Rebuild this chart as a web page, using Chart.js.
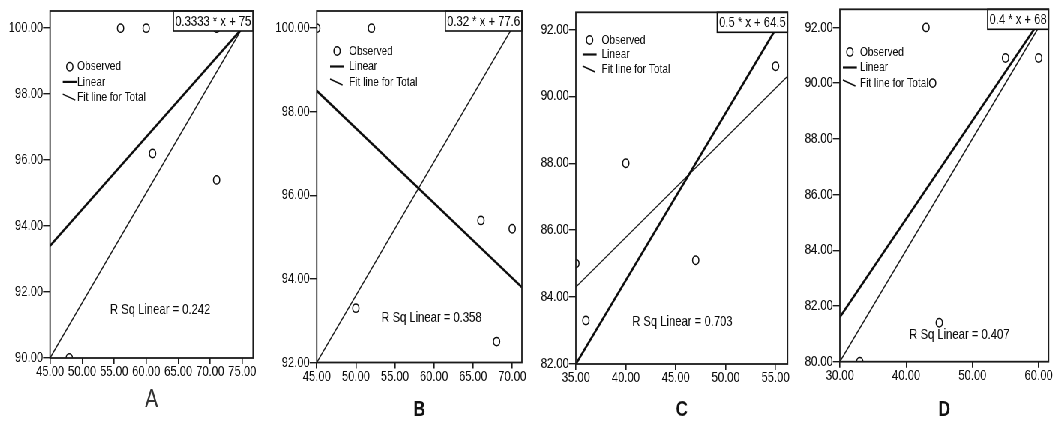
<!DOCTYPE html>
<html>
<head>
<meta charset="utf-8">
<script src="https://cdn.jsdelivr.net/npm/chart.js@4.4.0/dist/chart.umd.min.js"></script>
<style>
  html, body { margin: 0; background: #fff; overflow: hidden; }
  /* A figura original é "espremida" na horizontal: desenha larga e comprime com CSS */
  #painel { position: relative; width: 1404px; height: 423px; background: #fff;
            transform: scaleX(0.75); transform-origin: 0 0; }
  #painel canvas { position: absolute; left: 0; top: 0; }
</style>
</head>
<body>
<div id="painel">
  <canvas id="graficoA" width="1404" height="423"></canvas>
  <canvas id="graficoB" width="1404" height="423"></canvas>
  <canvas id="graficoC" width="1404" height="423"></canvas>
  <canvas id="graficoD" width="1404" height="423"></canvas>
</div>
<script>
// ---- Dados ----
const rotulos = ['A', 'B', 'C', 'D'];

// Pontos observados
const xObsA = [48, 56, 60, 71, 61, 71];
const yObsA = [90, 100, 100, 100, 96.2, 95.4];
const xObsB = [45, 52, 50, 66, 70, 68];
const yObsB = [100, 100, 93.3, 95.4, 95.2, 92.5];
const xObsC = [35, 36, 40, 47, 55];
const yObsC = [85, 83.3, 88, 85.1, 90.9];
const xObsD = [33, 43, 44, 45, 55, 60];
const yObsD = [80, 92, 90, 81.4, 90.9, 90.9];

// Retas (linha grossa = Linear, linha fina = Fit line for Total), extremos lidos
const xLinearA = [45, 76.7];  const yLinearA = [93.4, 100.37];
const xAjusteA = [45, 76.7];  const yAjusteA = [90, 100.57];
const xLinearB = [45, 71.24]; const yLinearB = [98.5, 93.8];
const xAjusteB = [45, 71.24]; const yAjusteB = [92, 100.4];
const xLinearC = [35, 56.2];  const yLinearC = [82, 92.6];
const xAjusteC = [35, 56.2];  const yAjusteC = [84.3, 90.6];
const xLinearD = [30, 61.5];  const yLinearD = [81.6, 92.7];
const xAjusteD = [30, 61.5];  const yAjusteD = [80, 92.6];

// Equações e R²
const equacoes = ['0.3333 * x + 75', '0.32 * x + 77.6', '0.5 * x + 64.5', '0.4 * x + 68'];
const rQuadrados = [0.242, 0.358, 0.703, 0.407];

// Marcas dos eixos
const xTicksA = [45, 50, 55, 60, 65, 70, 75];
const yTicksA = [90, 92, 94, 96, 98, 100];
const xTicksB = [45, 50, 55, 60, 65, 70];
const yTicksB = [92, 94, 96, 98, 100];
const xTicksC = [35, 40, 45, 50, 55];
const yTicksC = [82, 84, 86, 88, 90, 92];
const xTicksD = [30, 40, 50, 60];
const yTicksD = [80, 82, 84, 86, 88, 90, 92];

// Limites dos eixos
const xLimitesA = [45, 76.7];  const yLimitesA = [90, 100.52];
const xLimitesB = [45, 71.24]; const yLimitesB = [92, 100.41];
const xLimitesC = [35, 56.2];  const yLimitesC = [82, 92.51];
const xLimitesD = [30, 61.5];  const yLimitesD = [80, 92.65];

// ---- Estilo ----
const escalaX = 0.75;            // compressão horizontal aplicada no CSS
const larguraCanvas = 1404;
const fonte = "'Liberation Sans', Arial, sans-serif";
const corTinta = '#0d0d0d';
const larguraEixoY = 50 / escalaX;
const cx = (v) => v / escalaX;   // converte x da figura para x do canvas

// Junta arrays x/y em pontos
const pontos = (xs, ys) => xs.map((x, i) => ({ x: x, y: ys[i] }));

// Plugin que desenha moldura, caixa da equação, R² e a legenda dentro da área
const pluginSpss = {
  id: 'spss',
  afterDatasetsDraw(chart, args, opts) {
    const { ctx, chartArea: a } = chart;
    ctx.save();

    // Legenda a partir dos datasets
    ctx.font = '13.5px ' + fonte;
    ctx.textAlign = 'left';
    ctx.textBaseline = 'middle';
    chart.data.datasets.forEach((ds, i) => {
      const y = a.top + opts.legenda.y + i * opts.legenda.dy;
      const x0 = a.left + cx(opts.legenda.x);
      const x1 = x0 + cx(14);
      ctx.strokeStyle = corTinta;
      ctx.fillStyle = corTinta;
      if (ds.tipoLegenda === 'circulo') {
        ctx.lineWidth = 1.5;
        ctx.beginPath();
        ctx.arc((x0 + x1) / 2, y, 4.2, 0, Math.PI * 2);
        ctx.stroke();
      } else if (ds.tipoLegenda === 'reta') {
        ctx.lineWidth = 2.2;
        ctx.beginPath();
        ctx.moveTo(x0, y);
        ctx.lineTo(x1, y);
        ctx.stroke();
      } else {
        ctx.lineWidth = 1.4;
        ctx.beginPath();
        ctx.moveTo(x0, y - 3);
        ctx.lineTo(x1 - 2, y + 3);
        ctx.stroke();
      }
      ctx.fillText(ds.label, a.left + cx(opts.legenda.tx), y);
    });

    // R² Linear
    ctx.font = '15px ' + fonte;
    ctx.textAlign = 'center';
    ctx.fillStyle = corTinta;
    ctx.fillText('R Sq Linear = ' + opts.r2.toFixed(3), a.left + cx(opts.rsq.x), a.top + opts.rsq.y);

    // Caixa da equação no canto superior direito
    ctx.font = '15px ' + fonte;
    const w = ctx.measureText(opts.equacao).width + 5;
    ctx.fillStyle = '#fff';
    ctx.fillRect(a.right - w, a.top, w, 20);
    ctx.strokeStyle = corTinta;
    ctx.lineWidth = 1.6;
    ctx.strokeRect(a.right - w, a.top, w, 20);
    ctx.fillStyle = corTinta;
    ctx.textAlign = 'left';
    ctx.fillText(opts.equacao, a.right - w + 2.5, a.top + 11);

    // Moldura da área de plotagem
    ctx.strokeStyle = '#1a1a1a';
    ctx.lineWidth = 1.8;
    ctx.strokeRect(a.left, a.top, a.right - a.left, a.bottom - a.top);
    ctx.restore();
  }
};

// Cria um painel; area = posição da área de plotagem em pixels da figura
function criarPainel(id, indice, obs, linear, ajuste, xTicks, yTicks, xLim, yLim, layout) {
  const ctx = document.getElementById(id).getContext('2d');
  return new Chart(ctx, {
    type: 'scatter',
    data: {
      datasets: [
        {
          label: 'Observed', tipoLegenda: 'circulo', data: obs,
          pointRadius: 4.2, pointBorderWidth: 1.5, pointBorderColor: corTinta,
          pointBackgroundColor: 'rgba(0,0,0,0)', clip: 0,
        },
        {
          label: 'Linear', tipoLegenda: 'reta', data: linear, showLine: true,
          borderColor: corTinta, borderWidth: 2.6, pointRadius: 0, clip: 0,
        },
        {
          label: 'Fit line for Total', tipoLegenda: 'diagonal', data: ajuste, showLine: true,
          borderColor: '#1a1a1a', borderWidth: 1.4, pointRadius: 0, clip: 0,
        },
      ],
    },
    options: {
      responsive: false,
      animation: false,
      devicePixelRatio: 1,
      layout: {
        padding: {
          left: cx(layout.area.left) - larguraEixoY,
          top: layout.area.top,
          right: larguraCanvas - cx(layout.area.right),
          bottom: 0,
        },
      },
      plugins: {
        legend: { display: false },
        tooltip: { enabled: false },
        spss: {
          equacao: equacoes[indice], r2: rQuadrados[indice],
          rsq: layout.rsq, legenda: layout.legenda,
        },
      },
      scales: {
        x: {
          type: 'linear', min: xLim[0], max: xLim[1],
          grid: { display: true, drawOnChartArea: false, drawTicks: true, tickLength: 6, color: '#1a1a1a', lineWidth: 1.6 },
          border: { display: false },
          afterBuildTicks: (s) => { s.ticks = xTicks.map((v) => ({ value: v })); },
          afterFit: (s) => { s.height = 423 - layout.area.bottom; s.paddingLeft = 0; s.paddingRight = 0; },
          ticks: {
            autoSkip: false, maxRotation: 0, padding: -1, color: corTinta,
            font: { family: fonte, size: 15 },
            callback: (v) => Number(v).toFixed(2),
          },
          title: {
            display: true, text: rotulos[indice], color: layout.titulo.cor,
            font: { family: fonte, size: layout.titulo.tamanho, weight: layout.titulo.peso },
            padding: { top: 0, bottom: layout.titulo.baixo },
          },
        },
        y: {
          type: 'linear', min: yLim[0], max: yLim[1],
          grid: { display: true, drawOnChartArea: false, drawTicks: true, tickLength: cx(7), color: '#1a1a1a', lineWidth: 1.4 },
          border: { display: false },
          afterBuildTicks: (s) => { s.ticks = yTicks.map((v) => ({ value: v })); },
          afterFit: (s) => { s.width = larguraEixoY; s.paddingTop = 0; s.paddingBottom = 0; },
          ticks: {
            autoSkip: false, padding: 0, color: corTinta,
            font: { family: fonte, size: 15 },
            callback: (v) => Number(v).toFixed(2),
          },
        },
      },
    },
    plugins: [pluginSpss],
  });
}

criarPainel('graficoA', 0, pontos(xObsA, yObsA), pontos(xLinearA, yLinearA), pontos(xAjusteA, yAjusteA),
  xTicksA, yTicksA, xLimitesA, yLimitesA, {
    area: { left: 50, top: 11, right: 253, bottom: 358 },
    legenda: { x: 12.7, tx: 27, y: 55.7, dy: 15.2 },
    rsq: { x: 110, y: 299 },
    titulo: { tamanho: 26, peso: 'normal', cor: '#333', baixo: 8 },
  });

criarPainel('graficoB', 1, pontos(xObsB, yObsB), pontos(xLinearB, yLinearB), pontos(xAjusteB, yAjusteB),
  xTicksB, yTicksB, xLimitesB, yLimitesB, {
    area: { left: 316.7, top: 11, right: 522, bottom: 362.5 },
    legenda: { x: 13.3, tx: 32.3, y: 40, dy: 15.5 },
    rsq: { x: 114.8, y: 307 },
    titulo: { tamanho: 22, peso: 'bold', cor: '#111', baixo: 0 },
  });

criarPainel('graficoC', 2, pontos(xObsC, yObsC), pontos(xLinearC, yLinearC), pontos(xAjusteC, yAjusteC),
  xTicksC, yTicksC, xLimitesC, yLimitesC, {
    area: { left: 576, top: 12.3, right: 787.7, bottom: 364 },
    legenda: { x: 6.7, tx: 25.7, y: 27.7, dy: 14.5 },
    rsq: { x: 106.5, y: 310 },
    titulo: { tamanho: 22, peso: 'bold', cor: '#111', baixo: 0 },
  });

criarPainel('graficoD', 3, pontos(xObsD, yObsD), pontos(xLinearD, yLinearD), pontos(xAjusteD, yAjusteD),
  xTicksD, yTicksD, xLimitesD, yLimitesD, {
    area: { left: 840, top: 9.3, right: 1050.5, bottom: 361.7 },
    legenda: { x: 3, tx: 20, y: 42.7, dy: 15.5 },
    rsq: { x: 119.5, y: 325.7 },
    titulo: { tamanho: 22, peso: 'bold', cor: '#111', baixo: 0 },
  });
</script>
</body>
</html>
